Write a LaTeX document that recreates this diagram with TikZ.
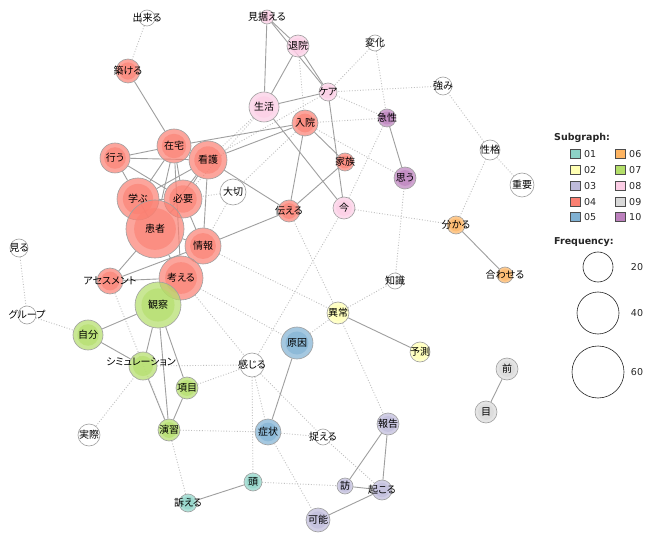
\documentclass[tikz,border=0pt]{standalone}
\usepackage{fontspec}
\usetikzlibrary{backgrounds}
\newfontfamily\jp[RawFeature=+palt]{Noto Sans CJK JP}
\setsansfont{DejaVu Sans}
\definecolor{cA}{HTML}{8DD3C7}
\definecolor{cB}{HTML}{FFFFB3}
\definecolor{cC}{HTML}{BEBADA}
\definecolor{cD}{HTML}{FB8072}
\definecolor{cE}{HTML}{80B1D3}
\definecolor{cF}{HTML}{FDB462}
\definecolor{cG}{HTML}{B3DE69}
\definecolor{cH}{HTML}{FCCDE5}
\definecolor{cI}{HTML}{D9D9D9}
\definecolor{cJ}{HTML}{BC80BD}
\tikzset{
  nc/.style={circle, inner sep=0pt, draw=gray!75, line width=0.6pt},
  lbl/.style={font=\jp\fontsize{10}{12}\selectfont, inner sep=0pt, text=black},
  sol/.style={draw=gray!75, line width=0.9pt},
  dot/.style={draw=gray!50, line width=0.9pt, dash pattern=on 0.9pt off 1.8pt},
  leg/.style={font=\sffamily\fontsize{9.5}{11}\selectfont, inner sep=0pt, text=black!85},
  legbox/.style={draw=gray!60!black, line width=0.5pt, minimum size=9.5pt, inner sep=0pt}
}
\newcommand\knode[6]{%
  \node[nc, minimum size={2*#4pt}, fill=#5, fill opacity=0.7] (#1) at (#2,#3) {};
  \fill[#5, opacity=0.6] (#1) circle[radius={0.72*#4pt}];
  \node[lbl] (#1-t) at (#1) {#6};
}
\newcommand\wnode[5]{%
  \node[nc, minimum size={2*#4pt}, fill=white] (#1) at (#2,#3) {};
  \node[lbl] (#1-t) at (#1) {#5};
}
\begin{document}
\begin{tikzpicture}[x=1pt,y=-1pt]
\useasboundingbox (0,0) rectangle (653,537);
% nodes
\wnode{dekiru}{147}{18}{8}{出来る}
\knode{kizuk}{128}{71}{12}{cD}{築ける}
\knode{misue}{267}{17}{7}{cH}{見据える}
\knode{taiin}{298}{46}{11}{cH}{退院}
\wnode{henka}{375}{43}{8}{変化}
\knode{care}{328}{92}{9}{cH}{ケア}
\wnode{tsuyomi}{443}{86}{9}{強み}
\knode{seikatsu}{264}{107}{15}{cH}{生活}
\knode{nyuin}{305}{123}{13}{cD}{入院}
\knode{kyusei}{387}{118}{9}{cJ}{急性}
\wnode{seikaku}{490}{150}{10}{性格}
\knode{kazoku}{345}{162}{9}{cD}{家族}
\knode{omou}{405}{178}{11}{cJ}{思う}
\wnode{juyo}{522}{185}{12}{重要}
\knode{zaitaku}{174}{146}{17}{cD}{在宅}
\knode{okonau}{115}{158}{15}{cD}{行う}
\knode{kango}{208}{160}{19}{cD}{看護}
\wnode{taisetsu}{233}{192}{13}{大切}
\knode{tsutaeru}{289}{211}{11}{cD}{伝える}
\knode{ima}{344}{208}{11}{cH}{今}
\knode{manabu}{138}{199}{21}{cD}{学ぶ}
\knode{hitsuyo}{183}{199}{19}{cD}{必要}
\knode{kanja}{155}{229}{29}{cD}{患者}
\knode{wakaru}{456}{225}{9}{cF}{分かる}
\knode{joho}{203}{246}{18}{cD}{情報}
\wnode{miru}{19}{248}{9}{見る}
\knode{kangaeru}{181}{278}{22}{cD}{考える}
\knode{awaseru}{505}{275}{8}{cF}{合わせる}
\wnode{chishiki}{395}{281}{8}{知識}
\knode{assess}{110}{281}{13}{cD}{アセスメント}
\knode{kansatsu}{158}{305}{23}{cG}{観察}
\knode{ijo}{338}{313}{11}{cB}{異常}
\wnode{group}{27}{315}{9}{グループ}
\knode{jibun}{88}{335}{15}{cG}{自分}
\knode{genin}{297}{343}{16}{cE}{原因}
\knode{yosoku}{420}{352}{10}{cB}{予測}
\knode{sim}{143}{366}{14}{cG}{}
\node[lbl] (sim-lab) at (141,362) {シミュレーション};
\wnode{kanjiru}{252}{365}{12}{感じる}
\knode{mae}{507}{369}{11}{cI}{前}
\knode{komoku}{187}{388}{11}{cG}{項目}
\knode{me}{486}{412}{11}{cI}{目}
\wnode{jissai}{89}{435}{11}{実際}
\knode{enshu}{169}{430}{11}{cG}{演習}
\knode{shojo}{268}{432}{13}{cE}{症状}
\knode{hokoku}{388}{424}{11}{cC}{報告}
\wnode{toraeru}{323}{437}{8}{捉える}
\knode{atama}{253}{482}{9}{cA}{頭}
\knode{hou}{345}{486}{8}{cC}{訪}
\knode{okoru}{382}{490}{10}{cC}{起こる}
\knode{uttaeru}{188}{503}{9}{cA}{訴える}
\knode{kano}{318}{520}{12}{cC}{可能}
% edges
\begin{scope}[on background layer]
\fill[white] (0,0) rectangle (653,537);
% dotted
\foreach \a/\b in {dekiru/kizuk, miru/group, group/jibun, jissai/sim, enshu/uttaeru, enshu/shojo,
  sim/kanjiru, komoku/kanjiru, kanjiru/shojo, kanjiru/atama, kanjiru/toraeru, kanjiru/ima,
  kangaeru/kanjiru, shojo/kano, shojo/toraeru, atama/hou, toraeru/okoru, joho/ijo,
  kangaeru/genin, tsutaeru/ijo, genin/ijo, ijo/chishiki, ijo/hokoku, chishiki/omou,
  ima/wakaru, wakaru/seikaku, seikaku/juyo, seikaku/tsuyomi, tsuyomi/care, henka/care,
  henka/kyusei, care/kyusei, kyusei/nyuin, nyuin/omou, kyusei/ima, taiin/nyuin,
  seikatsu/kango, seikatsu/hitsuyo, care/kango, nyuin/taisetsu, taisetsu/hitsuyo,
  taisetsu/joho, assess/enshu}
  \draw[dot] (\a) -- (\b);
% solid
\foreach \a/\b in {kizuk/zaitaku, misue/seikatsu, misue/taiin, misue/care, taiin/seikatsu,
  taiin/care, seikatsu/care, seikatsu/ima, care/ima, nyuin/zaitaku, nyuin/kango,
  nyuin/kazoku, nyuin/tsutaeru, kazoku/tsutaeru, kango/tsutaeru, joho/tsutaeru,
  zaitaku/okonau, zaitaku/kango, zaitaku/manabu, zaitaku/hitsuyo, zaitaku/kanja,
  zaitaku/kangaeru, okonau/kango, okonau/manabu, okonau/hitsuyo, kango/manabu,
  kango/hitsuyo, kango/joho, kango/kanja, manabu/hitsuyo, manabu/kanja, hitsuyo/kanja,
  hitsuyo/joho, kanja/joho, kanja/kangaeru, kanja/assess, joho/kangaeru, joho/assess,
  kangaeru/assess, kansatsu/jibun, kansatsu/sim, kansatsu/enshu, kansatsu/komoku,
  jibun/sim, sim/enshu, komoku/enshu, genin/shojo, ijo/yosoku, wakaru/awaseru,
  kyusei/omou, mae/me, atama/uttaeru, hokoku/hou, hokoku/okoru, hou/okoru, okoru/kano}
  \draw[sol] (\a) -- (\b);
\end{scope}
% legend
\node[leg, anchor=west, font=\sffamily\bfseries\fontsize{9.5}{11}\selectfont] (subg) at (554,138) {Subgraph:};
\foreach \c/\t/\y [count=\i] in {cA/01/154, cB/02/170, cC/03/186, cD/04/202, cE/05/217}{
  \node[legbox, fill=\c] (lb\i) at (575,\y) {};
  \node[leg, anchor=west] (lt\i) at (584,\y) {\t};
}
\foreach \c/\t/\y [count=\i] in {cF/06/154, cG/07/170, cH/08/186, cI/09/202, cJ/10/217}{
  \node[legbox, fill=\c] (lc\i) at (620,\y) {};
  \node[leg, anchor=west] (lu\i) at (629,\y) {\t};
}
\node[leg, anchor=west, font=\sffamily\bfseries\fontsize{9.5}{11}\selectfont] (freq) at (554,242) {Frequency:};
\node[circle, draw=black!85, line width=0.6pt, minimum size=30pt, inner sep=0pt] (f20) at (598,267) {};
\node[leg] (f20t) at (637,267) {20};
\node[circle, draw=black!85, line width=0.6pt, minimum size=42pt, inner sep=0pt] (f40) at (598,313) {};
\node[leg] (f40t) at (637,313) {40};
\node[circle, draw=black!85, line width=0.6pt, minimum size=52pt, inner sep=0pt] (f60) at (598,372) {};
\node[leg] (f60t) at (637,372) {60};
\end{tikzpicture}
\end{document}
